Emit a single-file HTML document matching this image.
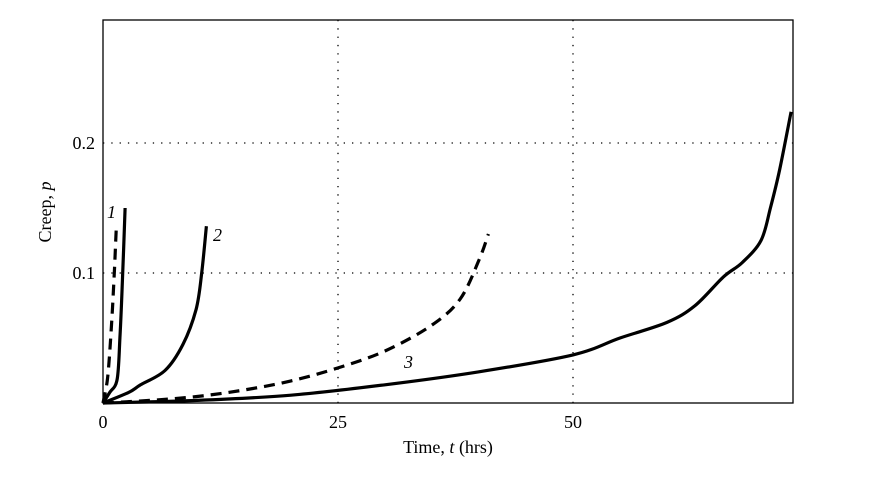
<!DOCTYPE html>
<html><head><meta charset="utf-8"><style>
body{margin:0;background:#fff}
svg text{font-family:"Liberation Serif",serif;font-size:18px;fill:#000}
</style></head><body>
<svg width="872" height="472">
<g id="grid"></g><g id="series"></g><g id="axes"></g>
</svg>
<script>
const xTicks=[0,25,50];
const yTicks=[0.1,0.2];
const yTickLabels=["0.1","0.2"];
const c1solidX=[0,0.7,1.5,1.8,2.1,2.35];
const c1solidY=[0,0.008,0.018,0.05,0.1,0.15];
const c1dashX=[0,0.5,0.9,1.2,1.4];
const c1dashY=[0,0.02,0.06,0.1,0.133];
const c2X=[0,2.7,4,6.6,8.5,9.9,10.5,11];
const c2Y=[0,0.008,0.014,0.025,0.045,0.072,0.1,0.136];
const c3dashX=[0,5,10,15,20,25,30,35,38,40,41];
const c3dashY=[0,0.002,0.005,0.01,0.017,0.027,0.04,0.06,0.08,0.11,0.13];
const c3solidX=[0,10,20,30,40,50,55,60,63,66,68,70,71,72,73.2];
const c3solidY=[0,0.002,0.006,0.014,0.024,0.037,0.05,0.062,0.075,0.097,0.108,0.125,0.15,0.18,0.224];
const X0=103,X1=793,Y0=403,Y1=20;
const sx=v=>X0+v*9.4, sy=v=>Y0-v*1300;
const NS="http://www.w3.org/2000/svg";
function mk(tag,attrs,parent){const e=document.createElementNS(NS,tag);for(const k in attrs)e.setAttribute(k,attrs[k]);parent.appendChild(e);return e;}
const grid=document.getElementById('grid'),ser=document.getElementById('series'),ax=document.getElementById('axes');
xTicks.forEach(t=>{if(t===0)return;const l=mk('line',{x1:sx(t),x2:sx(t),y1:Y1,y2:Y0,stroke:'#000','stroke-width':1.3,'stroke-dasharray':'1.3 7'},grid);

});
yTicks.forEach(t=>{const l=mk('line',{x1:X0,x2:X1,y1:sy(t),y2:sy(t),stroke:'#000','stroke-width':1.3,'stroke-dasharray':'1.3 7'},grid);

});
function curve(xs,ys,name,dash){
 const P=xs.map((x,i)=>[sx(x),sy(ys[i])]);
 let d='M'+P[0][0].toFixed(1)+','+P[0][1].toFixed(1);
 for(let i=0;i<P.length-1;i++){
  const p0=P[Math.max(0,i-1)],p1=P[i],p2=P[i+1],p3=P[Math.min(P.length-1,i+2)];
  const c1=[p1[0]+(p2[0]-p0[0])/6,p1[1]+(p2[1]-p0[1])/6];
  const c2=[p2[0]-(p3[0]-p1[0])/6,p2[1]-(p3[1]-p1[1])/6];
  d+='C'+c1.map(v=>v.toFixed(1)).join(',')+' '+c2.map(v=>v.toFixed(1)).join(',')+' '+p2.map(v=>v.toFixed(1)).join(',');
 }
 const p=mk('path',{d:d,fill:'none',stroke:'#000','stroke-width':3.2,'stroke-linejoin':'round'},ser);
 if(dash)p.setAttribute('stroke-dasharray','11 7');
 
 }
curve(c1solidX,c1solidY,'curve-1-solid',false);
curve(c1dashX,c1dashY,'curve-1-dashed',true);
curve(c2X,c2Y,'curve-2-solid',false);
curve(c3dashX,c3dashY,'curve-3-dashed',true);
curve(c3solidX,c3solidY,'curve-3-solid',false);
const box=mk('rect',{x:X0,y:Y1,width:X1-X0,height:Y0-Y1,fill:'none',stroke:'#000','stroke-width':1.3},ax);


xTicks.forEach(t=>{const tx=mk('text',{x:sx(t),y:428,'text-anchor':'middle'},ax);tx.textContent=t;

});
yTicks.forEach((t,i)=>{const tx=mk('text',{x:95,y:sy(t)+6,'text-anchor':'end'},ax);tx.textContent=yTickLabels[i];

});
</script>
<svg style="position:absolute;left:0;top:0" width="872" height="472">
<text x="448" y="453" text-anchor="middle" font-family="Liberation Serif" font-size="18">Time, <tspan font-style="italic">t</tspan> (hrs)</text>
<text transform="translate(51,212) rotate(-90)" text-anchor="middle" font-family="Liberation Serif" font-size="18">Creep, <tspan font-style="italic">p</tspan></text>
<text x="107" y="218" font-family="Liberation Serif" font-size="17" font-style="italic">1</text>
<text x="213" y="241" font-family="Liberation Serif" font-size="17" font-style="italic">2</text>
<text x="404" y="368" font-family="Liberation Serif" font-size="17" font-style="italic">3</text>
</svg>
</body></html>
